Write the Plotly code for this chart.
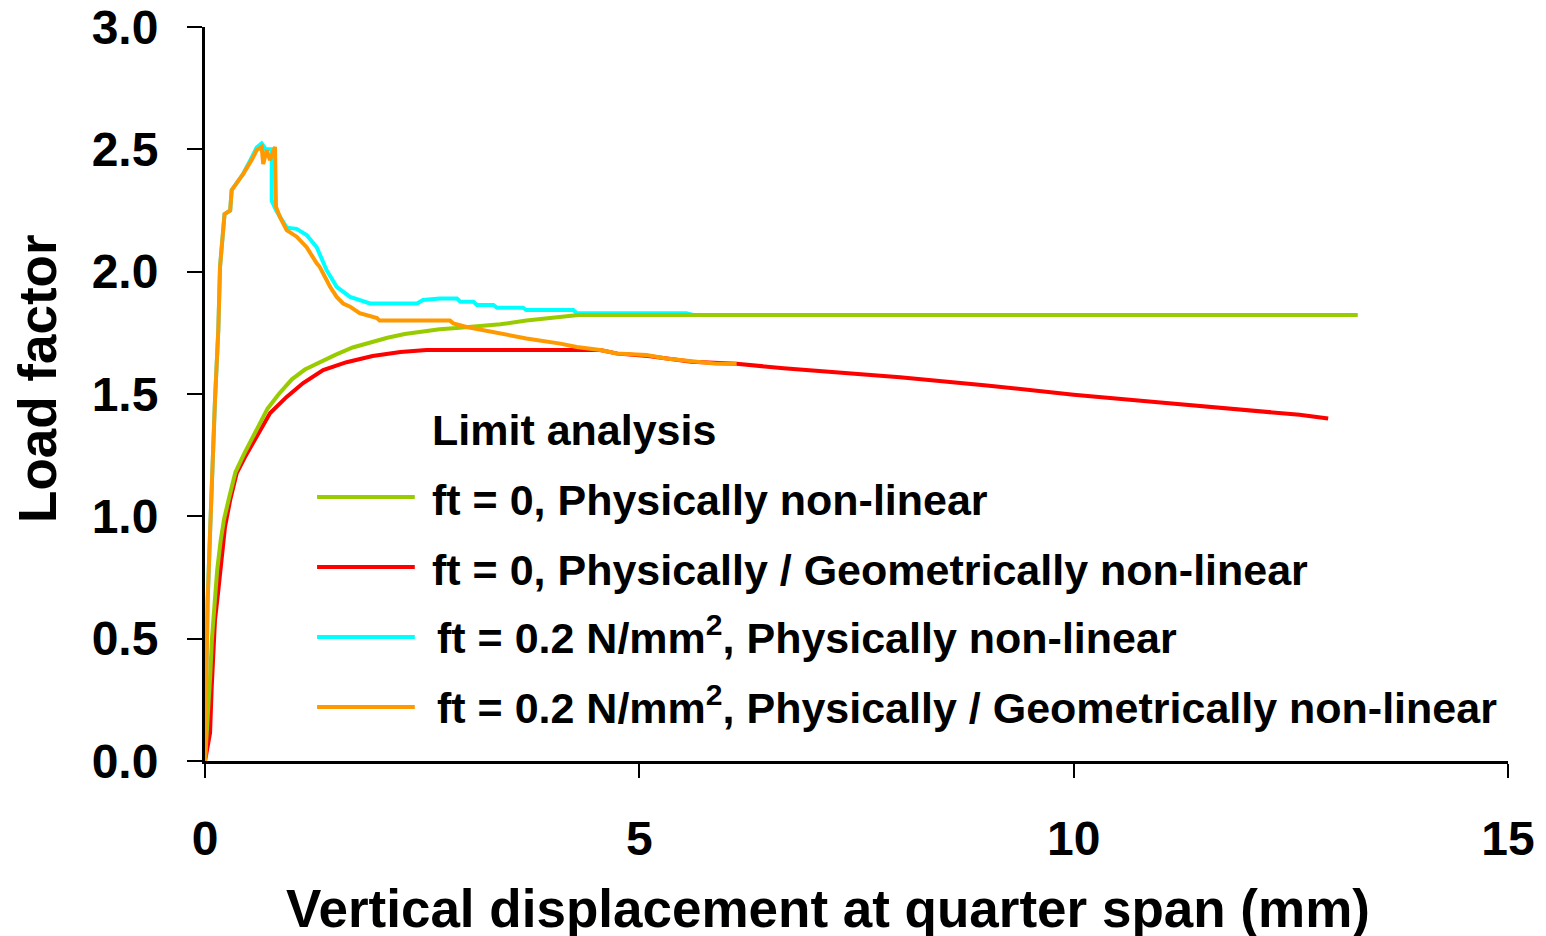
import plotly.graph_objects as go

# ---- data ----
ft0_pnl_x = [0, 0.03, 0.06, 0.08, 0.11, 0.14, 0.18, 0.22, 0.28, 0.35, 0.45, 0.58, 0.72, 0.85, 1.0,
             1.15, 1.32, 1.5, 1.7, 1.9, 2.1, 2.3, 2.5, 2.7, 2.9, 3.1, 3.4, 3.7, 4.0, 4.3, 6.0, 9.0, 13.27]
ft0_pnl_y = [0, 0.15, 0.35, 0.5, 0.65, 0.78, 0.9, 0.99, 1.08, 1.18, 1.255, 1.345, 1.44, 1.5, 1.56,
             1.6, 1.63, 1.66, 1.69, 1.71, 1.73, 1.745, 1.755, 1.765, 1.77, 1.775, 1.785, 1.8, 1.812,
             1.823, 1.823, 1.823, 1.823]

ft0_pgnl_x = [0, 0.04, 0.058, 0.077, 0.1, 0.115, 0.15, 0.19, 0.23, 0.29, 0.365, 0.46, 0.595, 0.75,
              0.94, 1.13, 1.36, 1.63, 1.93, 2.25, 2.55, 3.5, 4.55, 4.75, 5.1, 5.6, 6.12, 6.66, 8.0,
              9.0, 10.0, 11.0, 12.0, 12.6, 12.93]
ft0_pgnl_y = [0, 0.08, 0.114, 0.30, 0.45, 0.576, 0.687, 0.834, 0.956, 1.067, 1.177, 1.242, 1.324,
              1.422, 1.488, 1.545, 1.598, 1.63, 1.655, 1.672, 1.68, 1.68, 1.68, 1.665, 1.655, 1.632,
              1.624, 1.605, 1.568, 1.535, 1.497, 1.465, 1.435, 1.415, 1.40]

ft02_pnl_x = [0, 0.005, 0.012, 0.03, 0.058, 0.085, 0.115, 0.153, 0.173, 0.225, 0.29, 0.307, 0.365,
              0.44, 0.537, 0.595, 0.652, 0.70, 0.768, 0.768, 0.82, 0.863, 0.94, 1.055, 1.17, 1.286,
              1.40, 1.516, 1.67, 1.9, 2.13, 2.44, 2.51, 2.705, 2.9, 2.94, 3.09, 3.13, 3.32, 3.36,
              3.66, 3.70, 4.24, 4.28, 5.54, 5.62, 6.64]
ft02_pnl_y = [0, 0.15, 0.385, 0.65, 0.93, 1.2, 1.475, 1.76, 2.02, 2.235, 2.25, 2.333, 2.36, 2.40,
              2.466, 2.507, 2.524, 2.5, 2.5, 2.29, 2.25, 2.223, 2.18, 2.175, 2.15, 2.10, 2.006,
              1.938, 1.897, 1.87, 1.87, 1.87, 1.884, 1.89, 1.89, 1.877, 1.877, 1.864, 1.864, 1.853,
              1.853, 1.843, 1.843, 1.83, 1.83, 1.823, 1.823]

ft02_pgnl_x = [0, 0.005, 0.012, 0.03, 0.058, 0.085, 0.115, 0.153, 0.173, 0.225, 0.29, 0.307, 0.365,
               0.44, 0.537, 0.595, 0.652, 0.67, 0.71, 0.748, 0.806, 0.812, 0.817, 0.863, 0.94, 1.055,
               1.17, 1.286, 1.32, 1.40, 1.44, 1.516, 1.59, 1.67, 1.78, 1.98, 2.01, 2.82, 2.86, 3.01,
               3.20, 3.40, 3.70, 4.09, 4.28, 4.55, 4.74, 5.08, 5.31, 5.66, 5.89, 6.12]
ft02_pgnl_y = [0, 0.15, 0.385, 0.65, 0.93, 1.2, 1.475, 1.76, 2.02, 2.235, 2.25, 2.333, 2.36, 2.40,
               2.456, 2.497, 2.51, 2.44, 2.497, 2.456, 2.51, 2.4, 2.265, 2.223, 2.17, 2.143, 2.10,
               2.034, 2.02, 1.966, 1.938, 1.897, 1.87, 1.857, 1.83, 1.81, 1.80, 1.80, 1.788, 1.774,
               1.761, 1.747, 1.727, 1.706, 1.692, 1.68, 1.666, 1.659, 1.645, 1.632, 1.624, 1.624]

series_names = [
    "ft = 0, Physically non-linear",
    "ft = 0, Physically / Geometrically non-linear",
    "ft = 0.2 N/mm<sup>2</sup>, Physically non-linear",
    "ft = 0.2 N/mm<sup>2</sup>, Physically / Geometrically non-linear",
]
series_colors = ["#99CC00", "#FF0000", "#00FFFF", "#FF9900"]
legend_title = "Limit analysis"
x_title = "Vertical displacement at quarter span (mm)"
y_title = "Load factor"
x_ticks = [0, 5, 10, 15]
y_ticks = [0, 0.5, 1.0, 1.5, 2.0, 2.5, 3.0]

FONT = "Arial, Liberation Sans, sans-serif"

fig = go.Figure()
order = [(ft0_pgnl_x, ft0_pgnl_y, 1), (ft02_pnl_x, ft02_pnl_y, 2),
         (ft0_pnl_x, ft0_pnl_y, 0), (ft02_pgnl_x, ft02_pgnl_y, 3)]
for xs, ys, i in order:
    fig.add_trace(go.Scatter(x=xs, y=ys, mode="lines", name=series_names[i],
                             line=dict(color=series_colors[i], width=4),
                             showlegend=False))

# custom legend (inside plot area, paper coordinates)
leg_y = [0.3597, 0.2643, 0.169, 0.0736]
leg_text_dy = [-0.004, -0.004, 0.003, 0.003]
leg_tx = [0.1727, 0.1727, 0.1765, 0.1765]
shapes = []
annotations = []
for i in range(4):
    shapes.append(dict(type="line", xref="paper", yref="paper", x0=0.086, x1=0.161,
                       y0=leg_y[i], y1=leg_y[i], line=dict(color=series_colors[i], width=4)))
    annotations.append(dict(xref="paper", yref="paper", x=leg_tx[i], y=leg_y[i] + leg_text_dy[i],
                            xanchor="left", yanchor="middle", showarrow=False,
                            text=series_names[i],
                            font=dict(family=FONT, size=43, color="black", weight="bold")))
annotations.append(dict(xref="paper", yref="paper", x=0.1727, y=0.451, xanchor="left",
                        yanchor="middle", showarrow=False, text=legend_title,
                        font=dict(family=FONT, size=43, color="black", weight="bold")))
# axis titles
annotations.append(dict(xref="paper", yref="paper", x=0.478, y=-0.2003, xanchor="center",
                        yanchor="middle", showarrow=False, text=x_title,
                        font=dict(family=FONT, size=53, color="black", weight="bold")))
annotations.append(dict(xref="paper", yref="paper", x=-0.1282, y=0.5218, xanchor="center",
                        yanchor="middle", showarrow=False, text=y_title, textangle=-90,
                        font=dict(family=FONT, size=53, color="black", weight="bold")))

fig.update_layout(
    width=1538, height=928,
    margin=dict(l=197, r=38, t=19, b=175),
    paper_bgcolor="white", plot_bgcolor="white",
    shapes=shapes, annotations=annotations,
    font=dict(family=FONT, color="black"),
)
fig.update_xaxes(range=[0, 15], tickvals=x_ticks, ticktext=[str(v) for v in x_ticks],
                 automargin=False, ticklabeloverflow="allow",
                 showgrid=False, zeroline=False, showline=True, linecolor="black", linewidth=3,
                 ticks="outside", ticklen=14, tickwidth=1.5, tickcolor="black",
                 ticklabelstandoff=19,
                 tickfont=dict(family=FONT, size=48, color="black", weight="bold"))
fig.update_yaxes(range=[0, 3], tickvals=y_ticks, ticktext=[f"{v:.1f}" for v in y_ticks],
                 automargin=False, ticklabeloverflow="allow",
                 showgrid=False, zeroline=False, showline=True, linecolor="black", linewidth=3,
                 ticks="outside", ticklen=15, tickwidth=1.5, tickcolor="black",
                 ticklabelstandoff=19,
                 tickfont=dict(family=FONT, size=48, color="black", weight="bold"))

fig.write_html("out.html")
